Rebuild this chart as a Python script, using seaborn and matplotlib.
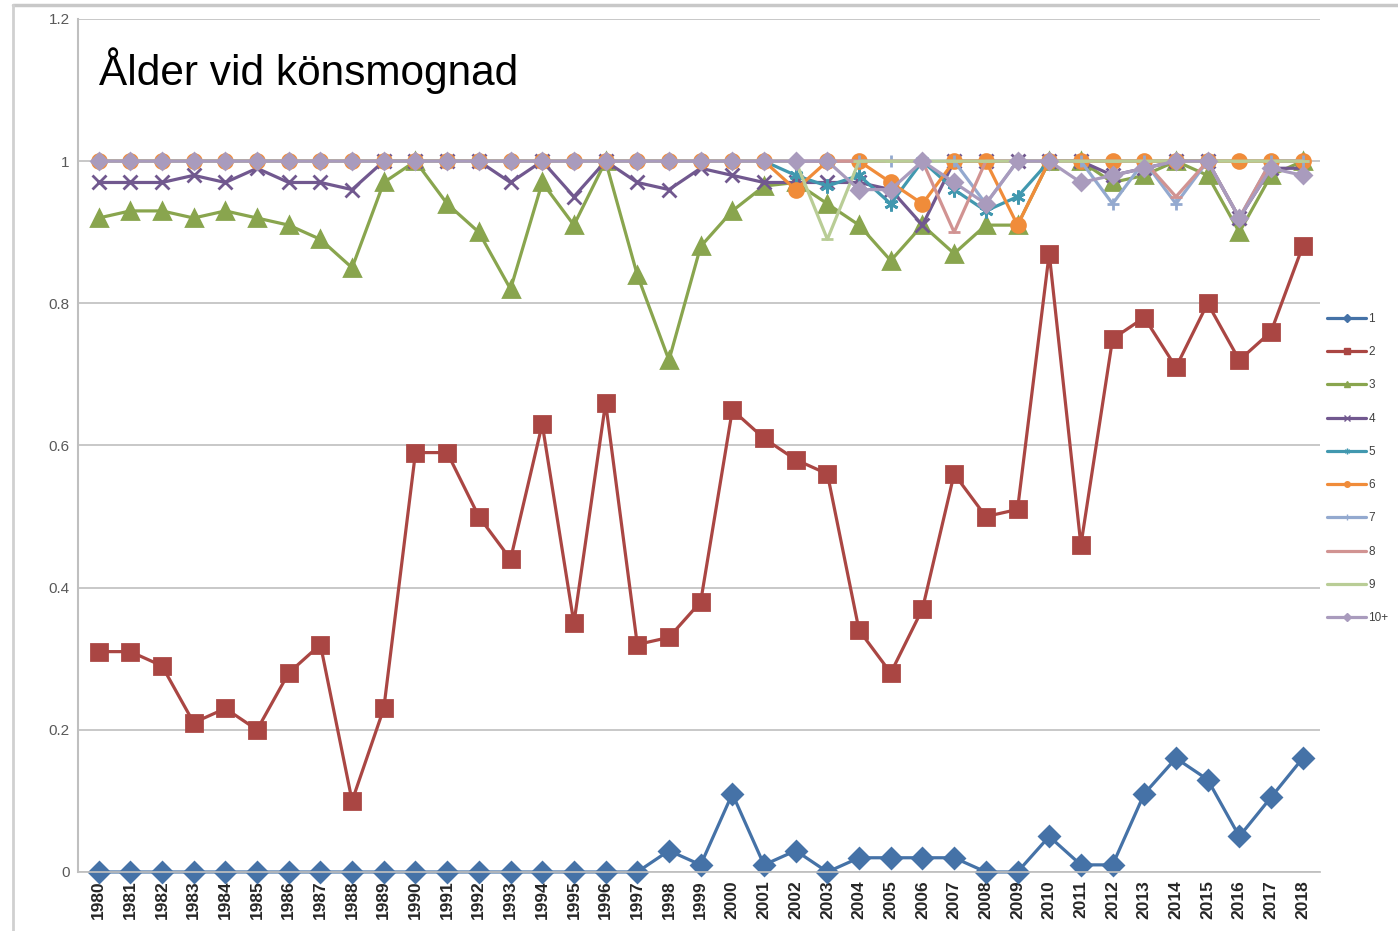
"""Ålder vid könsmognad - andel könsmogna per ålder och år."""
import matplotlib
matplotlib.use("Agg")
import matplotlib.pyplot as plt
from matplotlib.lines import Line2D
import pandas as pd
import seaborn as sns

sns.set_theme(style="white")
plt.rcParams["font.family"] = ["Liberation Sans", "DejaVu Sans"]

years = list(range(1980, 2019))

s1 = [0, 0, 0, 0, 0, 0, 0, 0, 0, 0, 0, 0, 0, 0, 0, 0, 0, 0, 0.03, 0.01,
      0.11, 0.01, 0.03, 0.0, 0.02, 0.02, 0.02, 0.02, 0.0, 0.0, 0.05, 0.01,
      0.01, 0.11, 0.16, 0.13, 0.05, 0.105, 0.16]
s2 = [0.31, 0.31, 0.29, 0.21, 0.23, 0.20, 0.28, 0.32, 0.10, 0.23, 0.59, 0.59,
      0.50, 0.44, 0.63, 0.35, 0.66, 0.32, 0.33, 0.38, 0.65, 0.61, 0.58, 0.56,
      0.34, 0.28, 0.37, 0.56, 0.50, 0.51, 0.87, 0.46, 0.75, 0.78, 0.71, 0.80,
      0.72, 0.76, 0.88]
s3 = [0.92, 0.93, 0.93, 0.92, 0.93, 0.92, 0.91, 0.89, 0.85, 0.97, 1.0, 0.94,
      0.90, 0.82, 0.97, 0.91, 1.0, 0.84, 0.72, 0.88, 0.93, 0.965, 0.97, 0.94,
      0.91, 0.86, 0.91, 0.87, 0.91, 0.91, 1.0, 1.0, 0.97, 0.98, 1.0, 0.98,
      0.90, 0.98, 1.0]
s4 = [0.97, 0.97, 0.97, 0.98, 0.97, 0.99, 0.97, 0.97, 0.96, 1.0, 1.0, 1.0,
      1.0, 0.97, 1.0, 0.95, 1.0, 0.97, 0.96, 0.99, 0.98, 0.97, 0.97, 0.97,
      0.97, 0.96, 0.91, 1.0, 1.0, 1.0, 1.0, 1.0, 0.98, 0.99, 1.0, 1.0,
      0.92, 0.99, 0.99]
s5 = [1.0] * 22 + [0.98, 0.965, 0.98, 0.94, 1.0, 0.96, 0.93, 0.95, 1.0, 1.0,
                   1.0, 1.0, 1.0, 1.0, 1.0, 1.0, 1.0]
s6 = [1.0] * 22 + [0.96, 1.0, 1.0, 0.97, 0.94, 1.0, 1.0, 0.91, 1.0, 1.0,
                   1.0, 1.0, 1.0, 1.0, 1.0, 1.0, 1.0]
s7 = [1.0] * 22 + [1.0, 1.0, 1.0, 1.0, 1.0, 1.0, 0.94, 1.0, 1.0, 1.0,
                   0.94, 1.0, 0.94, 1.0, 0.92, 1.0, 1.0]
s8 = [1.0] * 22 + [1.0, 1.0, 1.0, 1.0, 1.0, 0.90, 1.0, 1.0, 1.0, 1.0,
                   1.0, 1.0, 0.95, 1.0, 0.92, 1.0, 1.0]
s9 = [1.0] * 22 + [1.0, 0.89, 1.0, 1.0, 1.0, 1.0, 1.0, 1.0, 1.0, 1.0,
                   1.0, 1.0, 1.0, 1.0, 1.0, 1.0, 1.0]
s10 = [1.0] * 22 + [1.0, 1.0, 0.96, 0.96, 1.0, 0.97, 0.94, 1.0, 1.0, 0.97,
                    0.98, 0.99, 1.0, 1.0, 0.92, 0.99, 0.98]

labels = ["1", "2", "3", "4", "5", "6", "7", "8", "9", "10+"]
series = [s1, s2, s3, s4, s5, s6, s7, s8, s9, s10]

colors = ["#4572A7", "#AA4643", "#89A54E", "#71588F", "#4198AF", "#F08C3A",
          "#93A9CF", "#D19392", "#B9CD96", "#A99BBD"]
markers = ["D", "s", "^", "x", (6, 2, 0), "o", "+", "_", "_", "D"]
msizes = [10, 11, 11, 10, 10, 10, 9, 8, 8, 8]

df = pd.DataFrame({
    "year": years * len(labels),
    "value": [v for s in series for v in s],
    "age": [lab for lab in labels for _ in years],
})

fig = plt.figure(figsize=(13.98, 9.31), dpi=100)
ax = fig.add_axes([0.0558, 0.0634, 0.8885, 0.9162])

for lab, col, mk, ms in zip(labels, colors, markers, msizes):
    sub = df[df["age"] == lab]
    sns.lineplot(data=sub, x="year", y="value", ax=ax, color=col, marker=mk,
                 markersize=ms, markeredgecolor=col, markeredgewidth=2,
                 linewidth=2.3, label=lab, legend=False, clip_on=False)

ax.set_xlim(1979.35, 2018.55)
ax.set_ylim(0, 1.2)
ax.set_xticks(years)
ax.set_xticklabels([str(y) for y in years], rotation=90, fontsize=12.5,
                   color="#262626", fontweight="bold")
ax.set_yticks([0, 0.2, 0.4, 0.6, 0.8, 1.0, 1.2])
ax.set_yticklabels(["0", "0.2", "0.4", "0.6", "0.8", "1", "1.2"],
                   fontsize=11, color="#595959")
ax.tick_params(axis="both", length=0, pad=6)
ax.set_xlabel("")
ax.set_ylabel("")
ax.grid(axis="y", color="#BFBFBF", linewidth=1.2)
for side in ["top", "right"]:
    ax.spines[side].set_visible(False)
ax.spines["left"].set_color("#BFBFBF")
ax.spines["bottom"].set_color("#BFBFBF")
ax.spines["left"].set_linewidth(1.5)

ax.text(0.017, 0.94, "Ålder vid könsmognad", transform=ax.transAxes,
        fontsize=30.5, color="black", va="center", ha="left")

handles = [Line2D([], [], color=c, linewidth=2.3, marker=m, markersize=4,
                  markeredgecolor=c) for c, m in zip(colors, markers)]
leg = ax.legend(handles, labels, loc="center left", bbox_to_anchor=(1.0, 0.473),
                frameon=False, fontsize=8.5, labelspacing=1.8,
                handlelength=3.3, handletextpad=0.2, borderaxespad=0.2)
for t in leg.get_texts():
    t.set_color("#404040")

# chart frame (top and left edges visible in the reference)
fig.add_artist(Line2D([0.009, 1.0], [0.9946, 0.9946], color="#C8C8C8",
                      linewidth=2.5, transform=fig.transFigure))
fig.add_artist(Line2D([0.009, 0.009], [0.0, 0.9946], color="#D0D0D0",
                      linewidth=2, transform=fig.transFigure))

fig.savefig("out.png", dpi=100)
